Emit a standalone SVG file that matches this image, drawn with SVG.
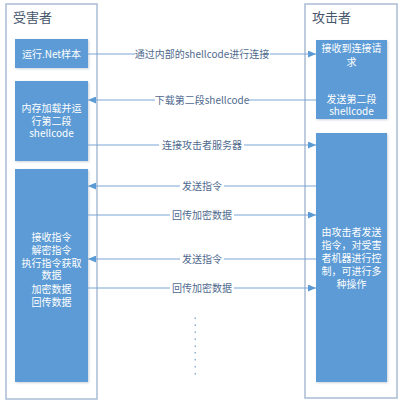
<svg xmlns="http://www.w3.org/2000/svg" width="404" height="408" viewBox="0 0 404 408">
<style>
.lane{fill:#ffffff;stroke:#a9bcd4;stroke-width:1.5}
.box{fill:#5b9bd5;filter:url(#sh)}
.title{font-family:"Noto Sans CJK SC","Noto Sans",sans-serif;font-size:13px;fill:#44546a}
.bt{font-family:"Noto Sans CJK SC","Noto Sans",sans-serif;font-size:10px;fill:#ffffff;text-anchor:middle}
.lb{font-family:"Noto Sans CJK SC","Noto Sans",sans-serif;font-size:10px;fill:#4f6a8e;text-anchor:middle}
.ln{stroke:#7aa6d8;stroke-width:1;fill:none}
.bg{fill:#ffffff}
.dot{fill:#8fb0d6}
</style>
<defs>
<filter id="sh" x="-10%" y="-10%" width="130%" height="130%">
<feDropShadow dx="1" dy="1" stdDeviation="0.8" flood-color="#9aa8b8" flood-opacity="0.5"/>
</filter>
<marker id="ah" viewBox="0 0 8 7" refX="8" refY="3.5" markerWidth="8" markerHeight="7" markerUnits="userSpaceOnUse" orient="auto">
<path d="M0,0 L8,3.5 L0,7 Z" fill="#5b9bd5"/>
</marker>
</defs>
<g id="victim-lane">
<rect class="lane" x="6" y="4" width="91" height="395"/>
<text class="title" x="13" y="22">受害者</text>
</g>
<g id="attacker-lane">
<rect class="lane" x="305" y="4" width="92" height="394"/>
<text class="title" x="312" y="22">攻击者</text>
</g>
<g id="connectors">
<line class="ln" x1="88" y1="54" x2="316" y2="54" marker-end="url(#ah)"/>
<rect class="bg" x="135" y="47" width="135" height="14"/>
<text class="lb" x="202" y="57.5">通过内部的shellcode进行连接</text>
<line class="ln" x1="316" y1="100" x2="88" y2="100" marker-end="url(#ah)"/>
<rect class="bg" x="155" y="93" width="94" height="14"/>
<text class="lb" x="202" y="103.5">下载第二段shellcode</text>
<line class="ln" x1="88" y1="145" x2="316" y2="145" marker-end="url(#ah)"/>
<rect class="bg" x="159" y="138" width="85" height="14"/>
<text class="lb" x="202" y="148.5">连接攻击者服务器</text>
<line class="ln" x1="316" y1="186" x2="88" y2="186" marker-end="url(#ah)"/>
<rect class="bg" x="180" y="179" width="44" height="14"/>
<text class="lb" x="202" y="189.5">发送指令</text>
<line class="ln" x1="88" y1="215" x2="316" y2="215" marker-end="url(#ah)"/>
<rect class="bg" x="170" y="208" width="64" height="14"/>
<text class="lb" x="202" y="218.5">回传加密数据</text>
<line class="ln" x1="316" y1="259" x2="88" y2="259" marker-end="url(#ah)"/>
<rect class="bg" x="180" y="252" width="44" height="14"/>
<text class="lb" x="202" y="262.5">发送指令</text>
<line class="ln" x1="88" y1="288" x2="316" y2="288" marker-end="url(#ah)"/>
<rect class="bg" x="170" y="281" width="64" height="14"/>
<text class="lb" x="202" y="291.5">回传加密数据</text>
<g id="ellipsis">
<rect class="dot" x="194.5" y="317.5" width="1.5" height="1.5"/>
<rect class="dot" x="194.5" y="324.5" width="1.5" height="1.5"/>
<rect class="dot" x="194.5" y="331.5" width="1.5" height="1.5"/>
<rect class="dot" x="194.5" y="338.5" width="1.5" height="1.5"/>
<rect class="dot" x="194.5" y="345.5" width="1.5" height="1.5"/>
<rect class="dot" x="194.5" y="352" width="1.5" height="1.5"/>
<rect class="dot" x="194.5" y="359" width="1.5" height="1.5"/>
<rect class="dot" x="194.5" y="366" width="1.5" height="1.5"/>
<rect class="dot" x="194.5" y="373" width="1.5" height="1.5"/>
</g>
</g>
<g id="run-sample">
<rect class="box" x="15" y="39" width="73" height="29"/>
<text class="bt" x="51.5" y="57.5">运行.Net样本</text>
</g>
<g id="load-shellcode">
<rect class="box" x="15" y="81" width="73" height="80"/>
<text class="bt" x="51.5" y="112">内存加载并运</text>
<text class="bt" x="51.5" y="124.5">行第二段</text>
<text class="bt" x="51.5" y="137">shellcode</text>
</g>
<g id="victim-process">
<rect class="box" x="15" y="169" width="73" height="213"/>
<text class="bt" x="51.5" y="241">接收指令</text>
<text class="bt" x="51.5" y="254">解密指令</text>
<text class="bt" x="51.5" y="266.5">执行指令获取</text>
<text class="bt" x="51.5" y="279">数据</text>
<text class="bt" x="51.5" y="292.5">加密数据</text>
<text class="bt" x="51.5" y="305.5">回传数据</text>
</g>
<g id="accept-connection">
<rect class="box" x="316" y="40" width="71" height="79"/>
<text class="bt" x="351.5" y="52">接收到连接请</text>
<text class="bt" x="351.5" y="65.5">求</text>
<text class="bt" x="351.5" y="103">发送第二段</text>
<text class="bt" x="351.5" y="114.5">shellcode</text>
</g>
<g id="attacker-control">
<rect class="box" x="316" y="133" width="71" height="249"/>
<text class="bt" x="351.5" y="236">由攻击者发送</text>
<text class="bt" x="351.5" y="249">指令，对受害</text>
<text class="bt" x="351.5" y="262">者机器进行控</text>
<text class="bt" x="351.5" y="275">制，可进行多</text>
<text class="bt" x="351.5" y="287.5">种操作</text>
</g>
</svg>
